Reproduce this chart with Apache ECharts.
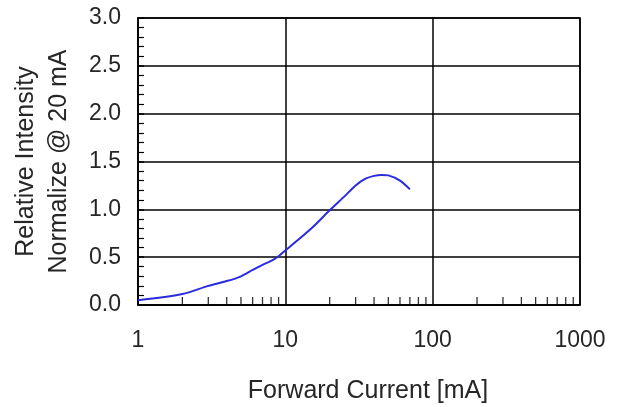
<!DOCTYPE html>
<html>
<head>
<meta charset="utf-8">
<script src="https://cdn.jsdelivr.net/npm/echarts@6/dist/echarts.min.js"></script>
<style>
html,body{margin:0;padding:0;background:#fff;}
#chart{width:626px;height:407px;}
</style>
</head>
<body>
<div id="chart"></div>
<script>
const currents = [1, 2, 3, 4, 5, 6, 7, 8, 9, 10, 15, 20, 25, 30, 35, 40, 45, 50, 60, 70];
const intensity = [0.05, 0.115, 0.2, 0.25, 0.30, 0.366, 0.42, 0.46, 0.51, 0.57, 0.80, 0.99, 1.13, 1.25, 1.32, 1.35, 1.36, 1.355, 1.30, 1.21];
const minorTickPositions = [2,3,4,5,6,7,8,9,20,30,40,50,60,70,80,90,200,300,400,500,600,700,800,900];
const xName = 'Forward Current [mA]';
const yName = 'Relative Intensity\nNormalize @ 20 mA';

const chart = echarts.init(document.getElementById('chart'));
const textColor = '#262626';
const font = 'Liberation Sans, Arial, sans-serif';
chart.setOption({
  animation: false,
  grid: { left: 138, right: 46, top: 18, bottom: 102, containLabel: false, outerBoundsMode: 'none',
          show: true, borderColor: '#000', borderWidth: 1.5, backgroundColor: 'transparent' },
  xAxis: {
    type: 'log', logBase: 10, min: 1, max: 1000, interval: 1,
    name: xName, nameLocation: 'middle', nameGap: 74,
    nameTextStyle: { fontSize: 25, color: textColor, fontFamily: font, padding: [0, 0, 0, 18] },
    axisLine: { show: true, lineStyle: { color: '#000', width: 1.5 } },
    axisTick: { show: false },
    axisLabel: { fontSize: 23, color: textColor, fontFamily: font, margin: 24, formatter: v => String(v) },
    splitLine: { show: true, lineStyle: { color: '#000', width: 1.5 } }
  },
  yAxis: {
    type: 'value', min: 0, max: 3, interval: 0.5,
    name: yName, nameLocation: 'middle', nameGap: 62, nameRotate: 90,
    nameTextStyle: { fontSize: 25, lineHeight: 33, color: textColor, fontFamily: font },
    axisLine: { show: true, lineStyle: { color: '#000', width: 1.5 } },
    axisTick: { show: true, inside: true, length: 6, lineStyle: { color: '#000', width: 1.5 } },
    minorTick: { show: true, splitNumber: 5, length: 6, lineStyle: { color: '#000', width: 1.2 } },
    axisLabel: { fontSize: 23, color: textColor, fontFamily: font, margin: 17, formatter: v => v.toFixed(1) },
    splitLine: { show: true, lineStyle: { color: '#000', width: 1.5 } }
  },
  series: [
    {
      type: 'line',
      data: currents.map((c, i) => [c, intensity[i]]),
      showSymbol: false,
      smooth: 0.3,
      lineStyle: { color: '#2a2ade', width: 2 },
      silent: true,
      z: 5
    },
    {
      type: 'scatter',
      data: minorTickPositions.map(v => [v, 0]),
      symbol: 'rect',
      symbolSize: [1.3, 8],
      symbolOffset: [0, -4],
      itemStyle: { color: '#000' },
      clip: false,
      silent: true,
      z: 4
    }
  ]
});
</script>
</body>
</html>
